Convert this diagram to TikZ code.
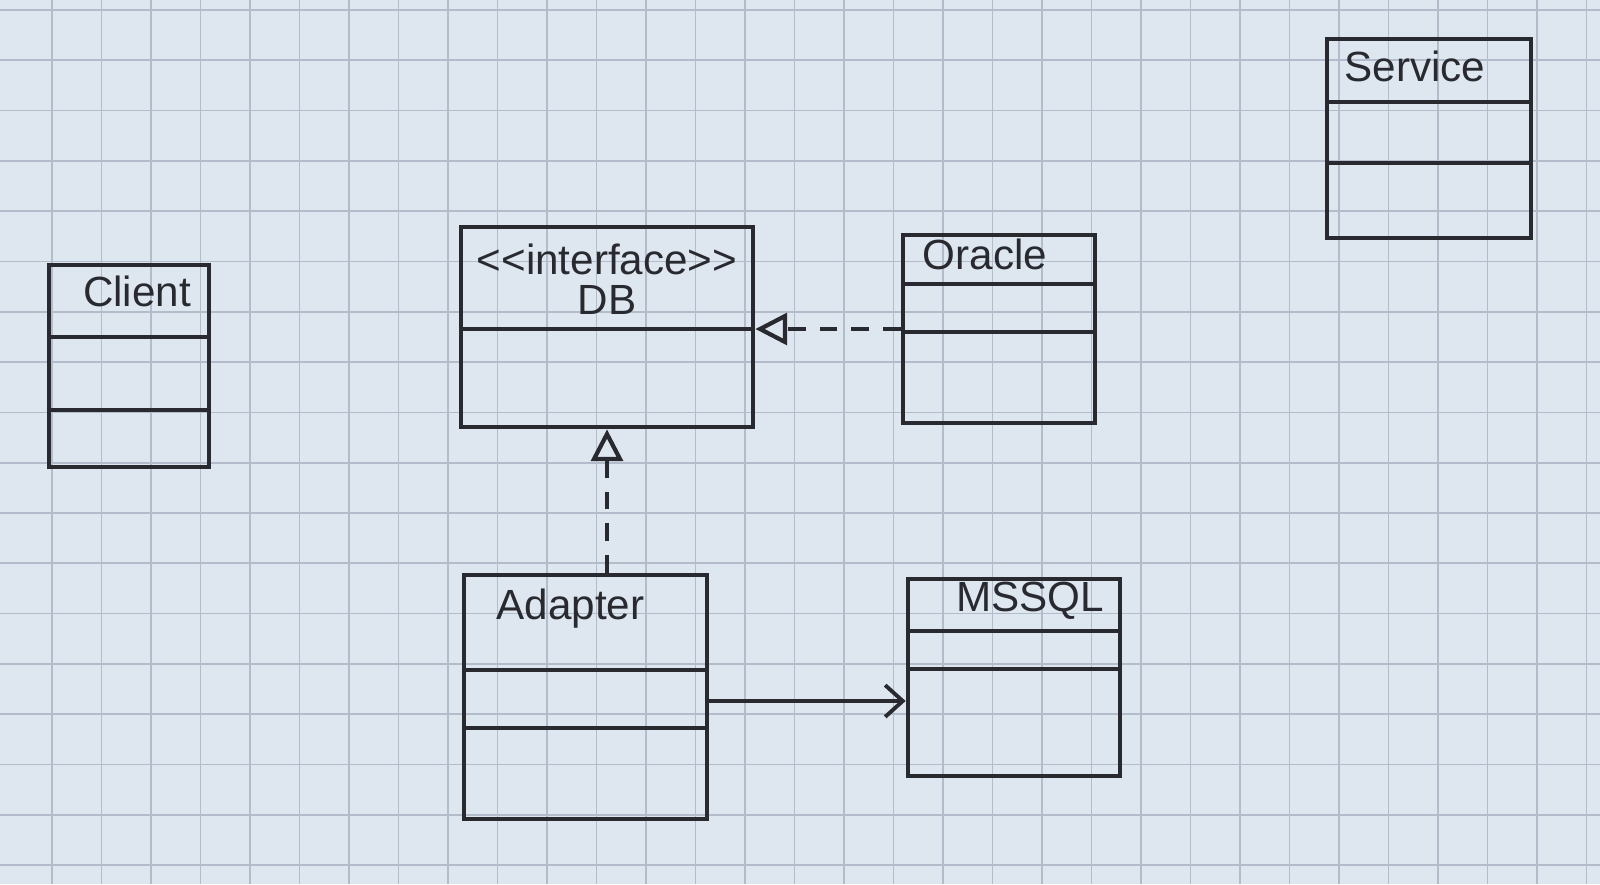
\documentclass[tikz,border=0pt]{standalone}
\usepackage{fontspec}
\setmainfont{Liberation Sans}
\usetikzlibrary{positioning, arrows.meta}
\definecolor{paper}{RGB}{222,230,240}
\definecolor{gridblue}{RGB}{178,188,202}
\definecolor{pen}{RGB}{40,42,48}
\tikzset{
  classbox/.style={draw=pen, line width=1.3pt, rectangle, inner sep=0pt},
  classname/.style={text=pen, font=\large, inner sep=1pt},
  divider/.style={draw=pen, line width=1.3pt},
  gridline/.style={draw=gridblue, line width=0.5pt},
  realize/.style={draw=pen, line width=1.2pt, dash pattern=on 5pt off 4pt, -{Triangle[open, length=9pt, width=9pt]}},
  assoc/.style={draw=pen, line width=1.1pt, -{Straight Barb[length=5pt, width=9pt]}},
}

\begin{document}
\begin{tikzpicture}[x=0.01cm, y=-0.01cm]
            % paper and squares
            \fill[paper] (0,0) rectangle (1600,884);
            \useasboundingbox (0,0) rectangle (1600,884);
            \foreach \gx in {0,...,31} \draw[gridline] (52+\gx*49.5,0) -- (52+\gx*49.5,884);
            \foreach \gy in {0,...,17} \draw[gridline] (0,10+\gy*50.3) -- (1600,10+\gy*50.3);

            % classes
            \draw (129,366) node[classbox, minimum width=1.60cm, minimum height=2.02cm]   (client) {};
            \draw (607,327) node[classbox, minimum width=2.92cm, minimum height=2.00cm]   (db) {};
            \draw (999,329) node[classbox, minimum width=1.92cm, minimum height=1.88cm]   (oracle) {};
            \draw (585.5,697) node[classbox, minimum width=2.43cm, minimum height=2.44cm] (adapter) {};
            \draw (1014,677.5) node[classbox, minimum width=2.12cm, minimum height=1.97cm] (mssql) {};
            \draw (1429,138.5) node[classbox, minimum width=2.04cm, minimum height=1.99cm] (service) {};

            % names
            \node[classname, below=0.09cm of client.north, xshift=0.08cm]   (clientname) {Client};
            \node[classname, below=0.15cm of db.north]                      (dbstereo) {<\kern0pt<interface>\kern0pt>};
            \node[classname, below=0.02cm of dbstereo]                      (dbname) {DB};
            \node[classname, below=0.02cm of oracle.north, xshift=-0.14cm]  (oraclename) {Oracle};
            \node[classname, below=0.12cm of adapter.north, xshift=-0.15cm] (adaptername) {Adapter};
            \node[classname, below=0.01cm of mssql.north, xshift=0.16cm]    (mssqlname) {MSSQL};
            \node[classname, below=0.10cm of service.north, xshift=-0.14cm] (servicename) {Service};

            % compartments
            \draw[divider] (client.west |- 0,337) -- (client.east |- 0,337);
            \draw[divider] (client.west |- 0,410) -- (client.east |- 0,410);
            \draw[divider] (db.west |- 0,329) -- (db.east |- 0,329);
            \draw[divider] (oracle.west |- 0,284) -- (oracle.east |- 0,284);
            \draw[divider] (oracle.west |- 0,332) -- (oracle.east |- 0,332);
            \draw[divider] (adapter.west |- 0,670) -- (adapter.east |- 0,670);
            \draw[divider] (adapter.west |- 0,728) -- (adapter.east |- 0,728);
            \draw[divider] (mssql.west |- 0,631) -- (mssql.east |- 0,631);
            \draw[divider] (mssql.west |- 0,669) -- (mssql.east |- 0,669);
            \draw[divider] (service.west |- 0,102) -- (service.east |- 0,102);
            \draw[divider] (service.west |- 0,163) -- (service.east |- 0,163);

            % relations
            \draw[realize] (oracle.west) -- (oracle.west -| db.east);
            \draw[realize] (adapter.north -| db.south) -- (db.south);
            \draw[assoc] ([yshift=-0.04cm]adapter.east) -- ([yshift=-0.04cm]adapter.east -| mssql.west);

            \end{tikzpicture}
\end{document}
